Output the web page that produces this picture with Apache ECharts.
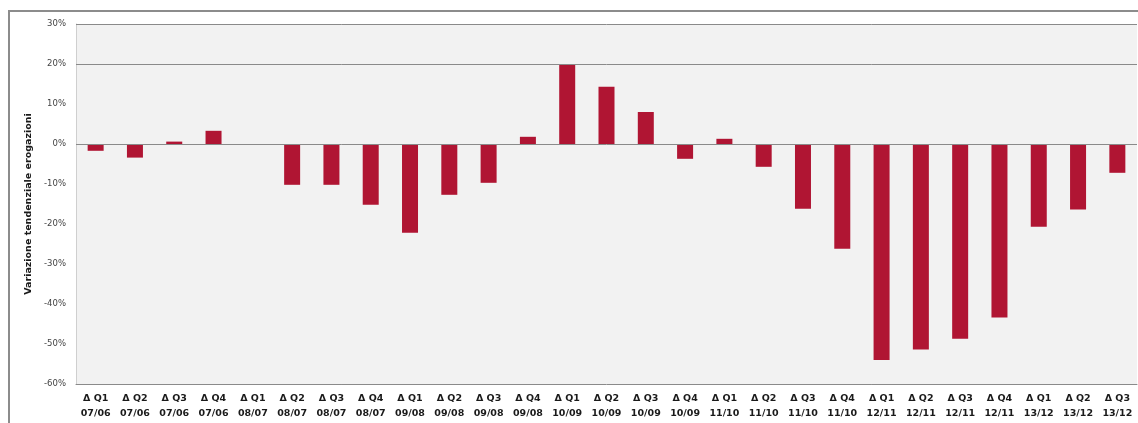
<!DOCTYPE html>
<html>
<head>
<meta charset="utf-8">
<script src="https://cdn.jsdelivr.net/npm/echarts@6/dist/echarts.min.js"></script>
<style>
  html, body { margin: 0; padding: 0; background: #fff; overflow: hidden; }
  #frame { position: absolute; left: 8px; top: 10px; width: 1200px; height: 500px; border: 2px solid #8c8c8c; box-sizing: border-box; }
  #main { position: absolute; left: 0; top: 0; width: 1138px; height: 423px; }
</style>
</head>
<body>
<div id="frame"></div>
<div id="main"></div>
<script>
// Trimestri e anni di confronto
var quarters = ['Δ Q1', 'Δ Q2', 'Δ Q3', 'Δ Q4', 'Δ Q1', 'Δ Q2', 'Δ Q3', 'Δ Q4', 'Δ Q1', 'Δ Q2', 'Δ Q3', 'Δ Q4',
    'Δ Q1', 'Δ Q2', 'Δ Q3', 'Δ Q4', 'Δ Q1', 'Δ Q2', 'Δ Q3', 'Δ Q4', 'Δ Q1', 'Δ Q2', 'Δ Q3', 'Δ Q4',
    'Δ Q1', 'Δ Q2', 'Δ Q3'];
var periods = ['07/06', '07/06', '07/06', '07/06', '08/07', '08/07', '08/07', '08/07', '09/08', '09/08', '09/08', '09/08',
    '10/09', '10/09', '10/09', '10/09', '11/10', '11/10', '11/10', '11/10', '12/11', '12/11', '12/11', '12/11',
    '13/12', '13/12', '13/12'];
// Variazione tendenziale (%)
var variazione = [-1.7, -3.4, 0.6, 3.3, 0, -10.2, -10.2, -15.2, -22.2, -12.7, -9.7, 1.8,
    20.0, 14.3, 8.0, -3.7, 1.3, -5.7, -16.2, -26.2, -54.0, -51.4, -48.7, -43.4,
    -20.7, -16.4, -7.2];
// linee orizzontali visibili
var gridValues = [30, 20, 0];

var categories = quarters.map(function (q, i) { return q + '\n' + periods[i]; });

var chartDom = document.getElementById('main');
var myChart = echarts.init(chartDom);
var option;

option = {
    animation: false,
    backgroundColor: 'transparent',
    grid: {
        left: 76, right: 1, top: 24, bottom: 39,
        show: true, backgroundColor: '#f2f2f2', borderWidth: 0
    },
    xAxis: {
        type: 'category',
        data: categories,
        position: 'bottom',
        axisLine: { onZero: false, lineStyle: { color: '#8a8a8a', width: 1 } },
        axisTick: { show: false },
        axisLabel: {
            interval: 0,
            margin: 7,
            fontFamily: 'DejaVu Sans',
            fontWeight: 'bold',
            fontSize: 9.5,
            lineHeight: 15,
            color: '#1a1a1a'
        }
    },
    yAxis: {
        type: 'value',
        min: -60, max: 30, interval: 10,
        name: 'Variazione tendenziale erogazioni',
        nameLocation: 'middle',
        nameGap: 42,
        nameTextStyle: { fontFamily: 'DejaVu Sans', fontWeight: 'bold', fontSize: 9.5, color: '#1a1a1a' },
        axisLine: { show: true, lineStyle: { color: '#cfcfcf', width: 1 } },
        axisTick: { show: false },
        splitLine: { show: false },
        axisLabel: {
            margin: 10,
            fontFamily: 'DejaVu Sans',
            fontSize: 8.5,
            color: '#444',
            formatter: '{value}%'
        }
    },
    series: [
        {
            type: 'bar',
            data: variazione,
            barWidth: 16,
            itemStyle: { color: '#b01533' },
            markLine: {
                silent: true,
                symbol: 'none',
                label: { show: false },
                lineStyle: { color: '#8a8a8a', width: 1, type: 'solid' },
                data: gridValues.map(function (v) { return { yAxis: v }; })
            }
        }
    ]
};

option && myChart.setOption(option);
</script>
</body>
</html>
